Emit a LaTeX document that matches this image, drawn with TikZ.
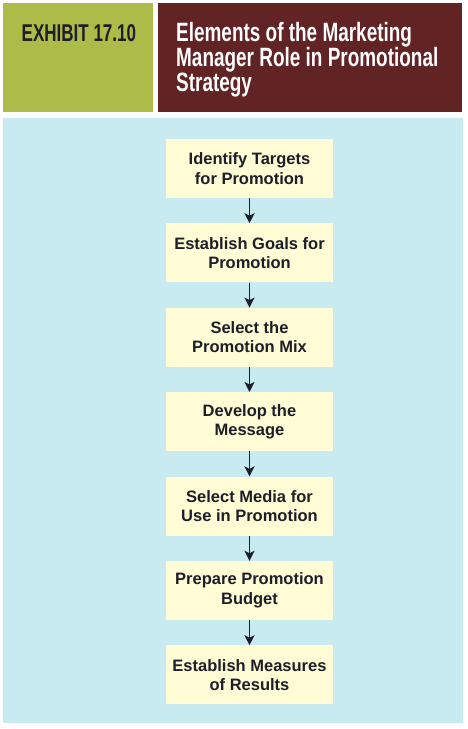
\documentclass[tikz,border=0pt]{standalone}
\usepackage{fontspec}
\setmainfont{Liberation Sans}
\newfontfamily\condfont[FakeStretch=0.70]{Liberation Sans}
\newfontfamily\titlefont[FakeStretch=0.715]{Liberation Sans}
\usetikzlibrary{arrows.meta}
\definecolor{hdrgreen}{RGB}{171,188,72}
\definecolor{hdrmaroon}{RGB}{98,35,36}
\definecolor{panelblue}{RGB}{200,234,241}
\definecolor{boxyellow}{RGB}{255,252,214}
\definecolor{inkdark}{RGB}{30,30,40}
\tikzset{
  stepbox/.style={draw=none, fill=boxyellow, minimum width=167pt, minimum height=59pt,
    inner sep=0pt, align=center, text=inkdark,
    font=\fontsize{16.5}{19.5}\selectfont\bfseries},
  flowarrow/.style={draw=inkdark, line width=1.9pt, -{Stealth[length=10pt,width=10pt,inset=2.5pt]}},
  hdrtext/.style={inner sep=0pt, anchor=base west}
}
\begin{document}
\begin{tikzpicture}[x=1pt,y=-1pt]
\useasboundingbox (0,0) rectangle (468,729);
\fill[white] (0,0) rectangle (468,729);
% header
\fill[hdrgreen] (3,3) rectangle (153,112);
\fill[hdrmaroon] (158,3) rectangle (462,112);
\node[hdrtext, text=inkdark, font=\condfont\fontsize{24.3}{24.3}\selectfont\bfseries] (exh) at (21.5,41.7) {EXHIBIT 17.10};
\node[hdrtext, text=white, font=\titlefont\fontsize{26.5}{24.7}\selectfont\bfseries] (t1) at (176,41.7) {Elements of the Marketing};
\node[hdrtext, text=white, font=\titlefont\fontsize{26.5}{24.7}\selectfont\bfseries] (t2) at (176,66.5) {Manager Role in Promotional};
\node[hdrtext, text=white, font=\titlefont\fontsize{26.5}{24.7}\selectfont\bfseries] (t3) at (176,91.2) {Strategy};
% panel
\fill[panelblue] (3,118) rectangle (463,723);
% boxes
\node[stepbox] (b1) at (249.5,168.5) {Identify Targets\\for Promotion};
\node[stepbox] (b2) at (249.5,252.9) {Establish Goals for\\Promotion};
\node[stepbox] (b3) at (249.5,337.3) {Select the\\Promotion Mix};
\node[stepbox] (b4) at (249.5,421.7) {Develop the\\Message};
\node[stepbox] (b5) at (249.5,506.1) {Select Media for\\Use in Promotion};
\node[stepbox] (b6) at (249.5,590.5) {Prepare Promotion\\Budget};
\node[stepbox] (b7) at (249.5,674.9) {Establish Measures\\of Results};
\foreach \a/\b in {b1/b2,b2/b3,b3/b4,b4/b5,b5/b6,b6/b7}
  \draw[flowarrow] (\a.south) -- (\b.north);
\end{tikzpicture}
\end{document}
